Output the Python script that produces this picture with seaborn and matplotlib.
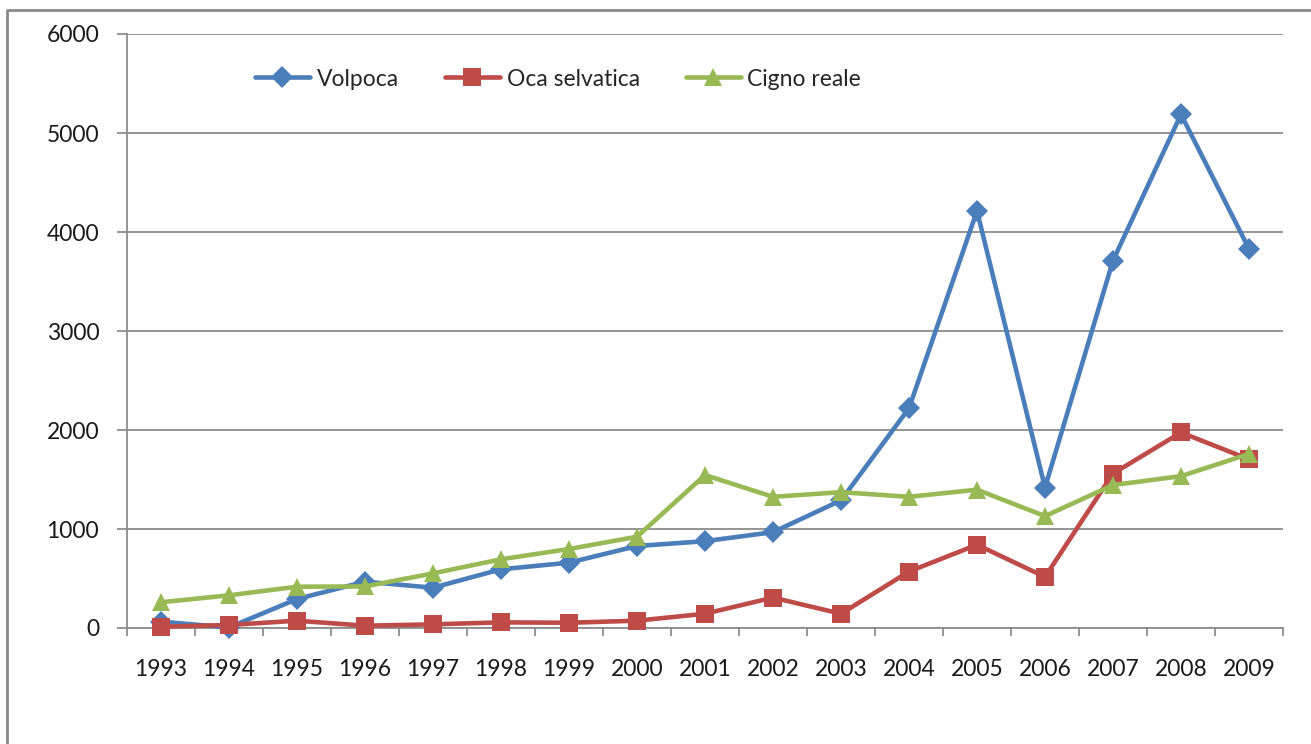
import matplotlib
matplotlib.use("Agg")
import matplotlib.pyplot as plt
from matplotlib.lines import Line2D
import seaborn as sns
import pandas as pd
import numpy as np

years = [1993, 1994, 1995, 1996, 1997, 1998, 1999, 2000, 2001,
         2002, 2003, 2004, 2005, 2006, 2007, 2008, 2009]
volpoca = [64, 5, 293, 468, 407, 593, 660, 828, 877,
           968, 1289, 2220, 4213, 1419, 3711, 5188, 3830]
oca_selvatica = [13, 30, 74, 23, 37, 57, 53, 74, 144,
                 307, 144, 570, 841, 516, 1560, 1975, 1704]
cigno_reale = [260, 330, 417, 420, 552, 694, 798, 922, 1545,
               1325, 1372, 1325, 1397, 1130, 1444, 1534, 1758]
series_names = ["Volpoca", "Oca selvatica", "Cigno reale"]
y_ticks = [0, 1000, 2000, 3000, 4000, 5000, 6000]

colors = ["#4A7EBB", "#BE4B48", "#98B954"]
markers = ["D", "s", "^"]
msizes = [11, 12.5, 13]

sns.set_theme(style="white")
plt.rcParams["font.family"] = ["Lato", "DejaVu Sans"]

fig = plt.figure(figsize=(13.11, 7.44), dpi=100)
ax = fig.add_axes([127/1311, 1-628/744, (1283-127)/1311, (628-34)/744])

for name, vals, c, m, ms in zip(series_names, [volpoca, oca_selvatica, cigno_reale],
                                colors, markers, msizes):
    df = pd.DataFrame({"year": years, "value": vals})
    sns.lineplot(data=df, x="year", y="value", ax=ax, color=c, marker=m,
                 markersize=ms, markeredgewidth=0, linewidth=3.3,
                 label=name, clip_on=False, zorder=3)

ax.set_xlim(years[0]-0.5, years[-1]+0.5)
ax.set_ylim(0, 6000)
ax.set_yticks(y_ticks)
ax.set_yticklabels([str(v) for v in y_ticks])
ax.set_xticks(years)
ax.set_xticklabels([str(y) for y in years])
ax.set_xticks(np.arange(years[0]-0.5, years[-1]+0.6, 1), minor=True)
ax.set_xlabel("")
ax.set_ylabel("")

gray = "#8C8C8C"
ax.grid(axis="y", color=gray, linewidth=1.3, zorder=0)
ax.set_axisbelow(True)
for s in ["top", "right"]:
    ax.spines[s].set_visible(False)
for s in ["left", "bottom"]:
    ax.spines[s].set_color(gray)
    ax.spines[s].set_linewidth(1.3)

ax.tick_params(axis="x", which="major", length=0, pad=22, labelsize=16.5,
               labelcolor="#1a1a1a")
ax.tick_params(axis="x", which="minor", length=6, width=1.3, color=gray,
               direction="out", bottom=True)
ax.tick_params(axis="y", which="major", length=7, width=1.3, color=gray,
               direction="out", left=True, pad=13, labelsize=16.5,
               labelcolor="#1a1a1a")

ax.get_legend().remove()
handles = [Line2D([0], [0], color=c, marker=m, markersize=ms, markeredgewidth=0,
                  linewidth=3.3) for c, m, ms in zip(colors, markers, msizes)]
fig.legend(handles, series_names, loc="center", bbox_to_anchor=(558/1311, 1-79/744),
           ncol=3, frameon=False, fontsize=16.5, handlelength=2.4,
           handletextpad=0.3, columnspacing=2.0)

# outer chart frame (left and top edges visible)
fig.add_artist(Line2D([7/1311, 7/1311, 1.0], [0.0, 1-10/744, 1-10/744],
                      transform=fig.transFigure, color="#8A8A8A", linewidth=2))

fig.savefig("out.png", dpi=100, facecolor="white")
